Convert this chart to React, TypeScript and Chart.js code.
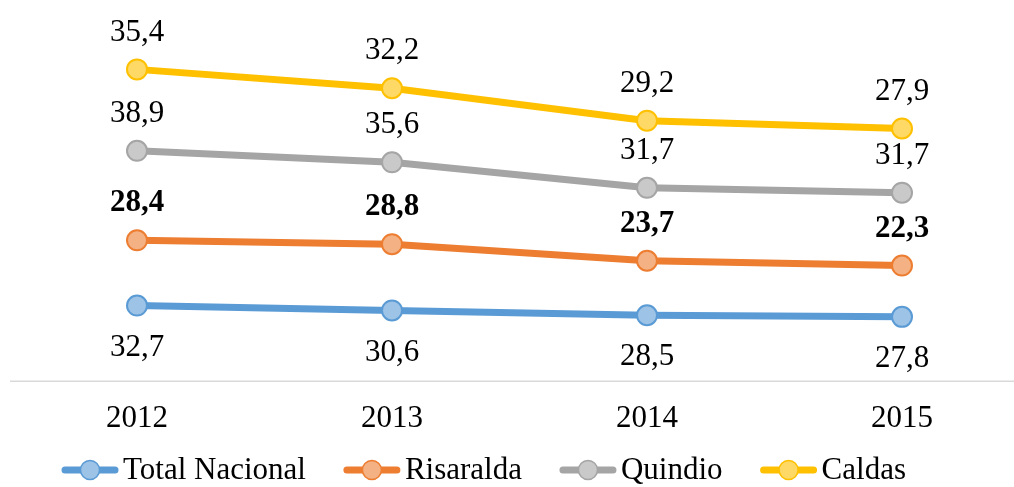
import React, { useEffect, useRef } from "react";
import { Chart, registerables } from "chart.js";

Chart.register(...registerables);

const years = ["2012", "2013", "2014", "2015"];
const totalNacional = [32.7, 30.6, 28.5, 27.8];
const risaralda = [28.4, 28.8, 23.7, 22.3];
const quindio = [38.9, 35.6, 31.7, 31.7];
const caldas = [35.4, 32.2, 29.2, 27.9];
const seriesNames = ["Total Nacional", "Risaralda", "Quindio", "Caldas"];

const FONT = "'Liberation Serif', 'Times New Roman', serif";
const FS = 31;

const labelsPlugin = {
  id: "valueLabels",
  afterDatasetsDraw(chart: any) {
    const ctx = chart.ctx;
    ctx.save();
    ctx.fillStyle = "#000";
    ctx.textAlign = "center";
    ctx.textBaseline = "middle";
    chart.data.datasets.forEach((ds: any, i: number) => {
      const meta = chart.getDatasetMeta(i);
      ctx.font = `${ds.labelBold ? "bold " : ""}${FS}px ${FONT}`;
      meta.data.forEach((pt: any, j: number) => {
        const v = ds.data[j];
        const txt = v.toFixed(1).replace(".", ",");
        const y = ds.labelBelow ? pt.y + 42 : pt.y - 37;
        ctx.fillText(txt, pt.x, y);
      });
    });
    ctx.restore();
  },
};

const axisLinePlugin = {
  id: "axisLine",
  beforeDatasetsDraw(chart: any) {
    const ctx = chart.ctx;
    const y = chart.chartArea.bottom + 0.5;
    ctx.save();
    ctx.strokeStyle = "#D9D9D9";
    ctx.lineWidth = 1.5;
    ctx.beginPath();
    ctx.moveTo(10, y);
    ctx.lineTo(chart.width, y);
    ctx.stroke();
    ctx.restore();
  },
};

const legendPlugin = {
  id: "lineLegend",
  afterDraw(chart: any) {
    const ctx = chart.ctx;
    ctx.save();
    ctx.font = `${FS}px ${FONT}`;
    ctx.textBaseline = "middle";
    ctx.textAlign = "left";
    let x = 62;
    const y = 470;
    const symW = 56;
    chart.data.datasets.forEach((ds: any) => {
      ctx.strokeStyle = ds.borderColor;
      ctx.lineWidth = 7;
      ctx.lineCap = "round";
      ctx.beginPath();
      ctx.moveTo(x + 3, y);
      ctx.lineTo(x + symW - 3, y);
      ctx.stroke();
      ctx.beginPath();
      ctx.arc(x + symW / 2, y, 9.5, 0, Math.PI * 2);
      ctx.fillStyle = ds.pointBackgroundColor;
      ctx.fill();
      ctx.lineWidth = 1.5;
      ctx.strokeStyle = ds.pointBorderColor;
      ctx.stroke();
      ctx.fillStyle = "#000";
      const tx = x + symW + 5;
      ctx.fillText(ds.label, tx, y + 1);
      x = tx + ctx.measureText(ds.label).width + 38;
    });
    ctx.restore();
  },
};

export default function App() {
  const ref = useRef<HTMLCanvasElement | null>(null);
  useEffect(() => {
    if (!ref.current) return;
    const mk = (label: string, data: number[], line: string, fill: string, extra: any = {}) => ({
      label,
      data,
      borderColor: line,
      backgroundColor: fill,
      pointBackgroundColor: fill,
      pointBorderColor: line,
      pointBorderWidth: 2,
      pointRadius: 10,
      borderWidth: 7,
      tension: 0,
      fill: false,
      ...extra,
    });
    const chart = new Chart(ref.current, {
      type: "line",
      data: {
        labels: years,
        datasets: [
          mk(seriesNames[0], totalNacional, "#5B9BD5", "#9DC3E6", { labelBelow: true }),
          mk(seriesNames[1], risaralda, "#ED7D31", "#F4B183", { labelBold: true }),
          mk(seriesNames[2], quindio, "#A5A5A5", "#C9C9C9"),
          mk(seriesNames[3], caldas, "#FFC000", "#FFD966"),
        ],
      },
      options: {
        animation: false,
        responsive: false,
        maintainAspectRatio: false,
        layout: { padding: { left: 137, right: 112, top: 12.8, bottom: 30 } },
        plugins: { legend: { display: false }, tooltip: { enabled: false } },
        scales: {
          x: {
            offset: false,
            grid: { display: false, drawTicks: false },
            border: { display: false },
            ticks: { color: "#000", padding: 19.5, font: { family: FONT, size: FS }, maxRotation: 0, autoSkip: false },
          },
          y: {
            stacked: true,
            display: false,
            min: 0,
            max: 160,
          },
        },
      },
      plugins: [axisLinePlugin, labelsPlugin, legendPlugin],
    });
    return () => chart.destroy();
  }, []);
  return (
    <div style={{ position: "fixed", left: 0, top: 0, width: 1014, height: 487, background: "#fff" }}>
      <canvas ref={ref} width={1014} height={487} style={{ width: 1014, height: 487, display: "block" }} />
    </div>
  );
}
